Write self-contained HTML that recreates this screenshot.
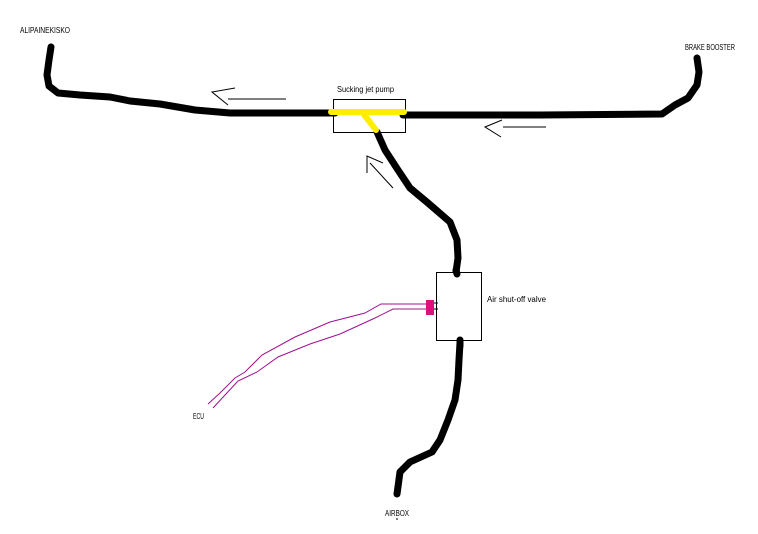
<!DOCTYPE html>
<html><head><meta charset="utf-8"><style>
html,body{margin:0;padding:0;background:#fff;}
svg{display:block;}
text{font-family:"Liberation Sans",sans-serif;font-size:8px;fill:#000;}
</style></head><body>
<svg width="758" height="534" viewBox="0 0 758 534" xmlns="http://www.w3.org/2000/svg">
<g fill="none" stroke="#000" stroke-width="7" stroke-linecap="round" stroke-linejoin="round">
<path d="M51,47 L49,60 L47,75 L49,86 L58,93 L80,95 L110,97 L130,101 L160,104 L195,110 L230,113 L335,113"/>
<path d="M403,115 L540,115 L662,114 L675,105 L688,98 L697,85 L699,72 L697,58"/>
<path d="M377,132 L385,150 L398,170 L410,188 L428,203 L450,222 L457,240 L458,258 L456,272"/>
<path d="M460,343 L459,360 L458,380 L455,400 L448,420 L440,440 L432,452 L410,462 L400,472 L397,494"/>
</g>
<rect x="333.5" y="99.5" width="72" height="33" fill="none" stroke="#000" stroke-width="1"/>
<g stroke="#ffee00" stroke-width="6" stroke-linecap="round" fill="none">
<path d="M331,112 L404,112"/>
<path d="M362,112 L376,130"/>
</g>
<rect x="436.5" y="272.5" width="45" height="68" fill="#fff" stroke="#000" stroke-width="1"/>
<path d="M457,274 L456,270 M460,340 L460,346" stroke="#000" stroke-width="7" stroke-linecap="round"/>
<line x1="434" y1="303" x2="438" y2="303" stroke="#000"/>
<line x1="434" y1="309" x2="438" y2="309" stroke="#000"/>
<rect x="426" y="300" width="8" height="15" fill="#e0107a"/>
<g fill="none" stroke="#a01090" stroke-width="1">
<path d="M426,304 L381,304 L365,313 L330,322 L295,337 L262,355 L245,372 L235,378 L220,393 L208,404"/>
<path d="M426,309 L393,309 L375,318 L340,334 L310,344 L278,357 L257,372 L238,381 L225,395 L213,408"/>
</g>
<g fill="none" stroke="#000" stroke-width="1">
<path d="M286,99 L228,99 M235,88 L212,92 L228,105"/>
<path d="M546,127 L503,127 M502,120 L485,127 L501,137"/>
<path d="M393,188 L370,163 M383,163 L367,156 L367,173"/>
</g>
<text x="20" y="33" textLength="50" lengthAdjust="spacingAndGlyphs">ALIPAINEKISKO</text>
<text x="685" y="50" textLength="50" lengthAdjust="spacingAndGlyphs">BRAKE BOOSTER</text>
<text x="337" y="92" textLength="57" lengthAdjust="spacingAndGlyphs">Sucking jet pump</text>
<text x="487" y="302" textLength="59" lengthAdjust="spacingAndGlyphs">Air shut-off valve</text>
<text x="193" y="419" textLength="11" lengthAdjust="spacingAndGlyphs">ECU</text>
<text x="385" y="516" textLength="24" lengthAdjust="spacingAndGlyphs">AIRBOX</text>
<line x1="396" y1="519" x2="398" y2="519" stroke="#000"/>
</svg>
</body></html>
